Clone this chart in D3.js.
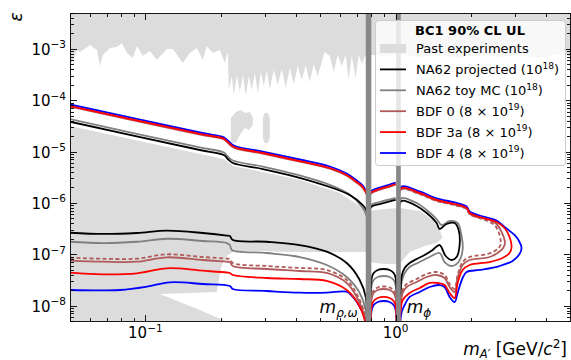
<!DOCTYPE html>
<html><head><meta charset="utf-8">
<script src="https://cdn.jsdelivr.net/npm/d3@7"></script>
<style>
body{margin:0;background:#fff;}
svg{display:block;font-family:"DejaVu Sans",sans-serif;}
</style></head><body>
<svg id="c" width="571" height="360"></svg>
<script>
// ---------------- DATA (mass in GeV/c^2, epsilon) ----------------
const xDomain = [0.05, 5];
const yDomain = [5e-9, 5e-3];
const xMajorTicks = [0.1, 1];
const xMajorLabels = ["−1", "0"];
const yMajorTicks = [1e-8, 1e-7, 1e-6, 1e-5, 1e-4, 1e-3];
const yMajorLabels = ["−8", "−7", "−6", "−5", "−4", "−3"];

// Past experiments: upper excluded region (lower boundary of the region hanging from the top)
const pastTop = [[0.0500,4.85e-4],[0.0514,6.07e-4],[0.0533,9.51e-4],[0.0548,8.69e-4],[0.0601,1.19e-3],[0.0641,9.51e-4],[0.0659,4.64e-4],[0.0677,7.60e-4],[0.0722,1.04e-3],[0.0770,1.088e-3],[0.0806,1.30e-3],[0.0844,8.31e-4],[0.0892,6.64e-4],[0.0926,1.14e-3],[0.0978,7.27e-4],[0.1043,9.09e-4],[0.1112,6.07e-4],[0.1220,9.95e-4],[0.1289,9.95e-4],[0.1413,5.31e-4],[0.1506,8.31e-4],[0.1606,1.04e-3],[0.1698,6.07e-4],[0.1761,1.14e-3],[0.1861,8.31e-4],[0.1985,9.51e-4],[0.2078,5.31e-4],[0.2117,7.60e-4],
 [0.2136,8.69e-4],[0.2156,1.58e-4],[0.2216,2.96e-4],[0.2258,1.26e-4],[0.2321,3.10e-4],[0.2386,1.445e-4],[0.2453,3.10e-4],[0.2521,1.208e-4],[0.2592,2.96e-4],[0.2664,1.58e-4],[0.2739,3.39e-4],[0.2815,1.38e-4],[0.2894,3.545e-4],[0.2975,1.89e-4],[0.3057,3.71e-4],[0.3144,1.654e-4],[0.3261,3.88e-4],[0.3383,1.98e-4],[0.3510,4.06e-4],[0.3641,1.73e-4],[0.3778,4.24e-4],[0.3919,2.07e-4],[0.4065,4.64e-4],[0.4218,2.48e-4],[0.4375,4.85e-4],[0.4539,2.26e-4],[0.4709,5.07e-4],[0.4885,2.96e-4],[0.5068,5.55e-4],[0.5209,8.69e-4],[0.5456,7.27e-4],[0.5660,3.545e-4],[0.5871,7.60e-4],[0.6091,4.64e-4],[0.6320,7.60e-4],[0.6496,2.48e-4],[0.6678,7.27e-4],[0.6928,2.71e-4],[0.7122,7.60e-4],[0.7322,5.07e-4],[0.7596,7.60e-4],
 [0.8027,7.60e-4],[0.9047,7.27e-4],[1.0383,7.95e-4],[1.2479,6.95e-4],[1.4997,7.60e-4],[1.8025,6.64e-4],[2.1660,7.95e-4],[2.6034,6.95e-4],[3.1289,7.60e-4],[3.7602,6.64e-4],[4.5193,7.95e-4],[5.0,7.27e-4]];
// Past experiments: beam-dump region (closed polygon)
const pastLower = [[0.05,3.14e-5],[0.1652,8.95e-6],[0.2059,7.16e-6],[0.2136,6.25e-6],[0.2237,5.23e-6],[0.2947,4.0e-6],[0.4141,2.79e-6],[0.5980,1.56e-6],[0.7390,7.95e-7],[0.7666,6.64e-7],[0.7666,1.104e-7],[0.6262,1.104e-7],[0.4977,1.104e-7],[0.3778,1.104e-7],[0.2868,1.155e-7],[0.2278,1.155e-7],[0.2136,9.65e-8],[0.2021,6.17e-8],[0.1966,3.15e-8],[0.1930,1.84e-8],[0.1143,1.68e-8],[0.1652,8.19e-9],[0.2078,5e-9],[0.05,5e-9]];
const pastResonance = [[0.7737,6.95e-7],[0.9047,7.60e-7],[1.0383,7.95e-7],[1.2479,6.95e-7],[1.4063,4.64e-7],[1.4997,2.96e-7],[1.5417,2.07e-7],[1.4589,1.65e-7],[1.3066,1.45e-7],[1.1382,1.104e-7],[1.0383,6.45e-8],[0.9047,6.45e-8],[0.7737,7.05e-8]];
const pastIsland1 = [[0.2196,1.47e-5],[0.2196,4.50e-5],[0.2300,5.89e-5],[0.2408,6.45e-5],[0.2498,5.63e-5],[0.2616,5.89e-5],[0.2689,4.71e-5],[0.2689,3.29e-5],[0.2592,2.63e-5],[0.2498,2.87e-5],[0.2386,2.10e-5],[0.2300,1.47e-5]];
const pastIsland2 = [[0.2947,4.50e-5],[0.3002,5.63e-5],[0.3087,5.63e-5],[0.3144,4.50e-5],[0.3144,1.84e-5],[0.3087,1.47e-5],[0.3002,1.47e-5],[0.2947,1.84e-5]];

// NA62 projected (10^18)
const na62Upper = [[0.05,3.81e-5],[0.1652,1.072e-5],[0.2059,8.56e-6],[0.2136,7.16e-6],[0.2237,5.98e-6],[0.2947,4.57e-6],[0.4029,3.19e-6],[0.5456,2.04e-6],[0.6556,1.42e-6],[0.7390,9.09e-7],[0.7666,6.95e-7],[0.7737,4.64e-7]];
const na62Mid = [[0.7809,6.64e-7],[0.8027,8.5e-7],[0.8639,9.5e-7],[0.9471,1.07e-6],[1.0008,1.14e-6]];
const na62Right = [[1.0288,7.27e-7],[1.0576,1.09e-6],[1.2139,8.69e-7],[1.3308,6.35e-7],[1.4589,4.06e-7],[1.4997,3.10e-7],[1.5994,3.88e-7],[1.7215,4.06e-7],[1.7860,2.96e-7],[1.8025,1.51e-7],[1.7534,8.82e-8],[1.6746,7.71e-8],[1.5848,9.23e-8],[1.4997,1.51e-7],[1.4063,1.21e-7],[1.3066,9.65e-8],[1.2139,8.07e-8],[1.1382,6.74e-8],[1.0871,5.39e-8],[1.0576,3.76e-8],[1.0479,2.01e-8],[1.0383,3e-9]];
const na62Lower = [[0.05,2.62e-7],[0.0677,2.48e-7],[0.0926,2.59e-7],[0.1220,2.87e-7],[0.1698,2.59e-7],[0.2117,2.31e-7],[0.2176,2.26e-7],[0.2237,1.89e-7],[0.3057,1.75e-7],[0.4141,1.51e-7],[0.5308,1.12e-7],[0.6378,6.74e-8],[0.7189,3.15e-8],[0.7596,1.47e-8],[0.7666,3e-9]];
const na62Arch = [[0.7953,3e-9],[0.8027,3.44e-8],[0.8176,4.31e-8],[0.8482,4.93e-8],[0.8965,5.15e-8],[0.9471,4.93e-8],[0.9826,4.31e-8],[1.0008,3.44e-8],[1.0101,3e-9]];

// NA62 toy MC (10^18)
const toyUpper = [[0.05,4.27e-5],[0.1652,1.20e-5],[0.2059,9.6e-6],[0.2136,8.0e-6],[0.2237,6.7e-6],[0.2947,5.1e-6],[0.4029,3.55e-6],[0.5456,2.25e-6],[0.6556,1.45e-6],[0.7390,8.0e-7],[0.7666,5.5e-7],[0.7737,4.0e-7]];
const toyMid = [[0.7809,7.3e-7],[0.8027,9.3e-7],[0.8639,1.04e-6],[0.9471,1.17e-6],[1.0008,1.25e-6]];
const toyRight = [[1.0288,9.09e-7],[1.0576,1.24e-6],[1.2139,9.94e-7],[1.3308,7.27e-7],[1.4589,4.85e-7],[1.5275,3.71e-7],[1.6441,4.44e-7],[1.7696,4.06e-7],[1.8359,2.26e-7],[1.8529,1.21e-7],[1.7860,7.05e-8],[1.6746,5.89e-8],[1.5702,7.05e-8],[1.4997,1.056e-7],[1.3681,8.82e-8],[1.2479,7.05e-8],[1.1382,5.64e-8],[1.0871,4.31e-8],[1.0576,2.88e-8],[1.0479,1.61e-8],[1.0383,3e-9]];
const toyLower = [[0.05,1.75e-7],[0.0677,1.65e-7],[0.0926,1.75e-7],[0.1220,2.00e-7],[0.1698,1.81e-7],[0.2117,1.65e-7],[0.2176,1.51e-7],[0.2216,1.21e-7],[0.3057,1.056e-7],[0.4141,8.82e-8],[0.5308,6.17e-8],[0.6378,3.60e-8],[0.7189,1.76e-8],[0.7596,8.19e-9],[0.7666,3e-9]];
const toyArch = [[0.7953,3e-9],[0.8027,2.51e-8],[0.8176,3.15e-8],[0.8482,3.60e-8],[0.8965,3.76e-8],[0.9471,3.60e-8],[0.9826,3.15e-8],[1.0008,2.51e-8],[1.0101,3e-9]];

// BDF 0 (8x10^19)
const bdf0Upper = [[0.05,7.48e-5],[0.1652,2.13e-5],[0.2059,1.73e-5],[0.2136,1.48e-5],[0.2258,1.19e-5],[0.2947,9.09e-6],[0.4141,6.34e-6],[0.5456,4.64e-6],[0.6378,3.39e-6],[0.6993,2.47e-6],[0.7390,1.98e-6],[0.7737,1.32e-6]];
const bdf0Mid = [[0.7809,1.16e-6],[0.7953,1.51e-6],[0.8639,1.80e-6],[0.9471,2.07e-6],[1.0008,2.26e-6]];
const bdf0Right = [[1.0288,1.38e-6],[1.0576,1.89e-6],[1.2479,1.51e-6],[1.4589,1.11e-6],[1.7215,9.2e-7],[1.9223,7.7e-7],[1.9761,6.15e-7],[2.1660,5.15e-7],[2.3747,4.64e-7],[2.5325,3.88e-7],[2.6517,2.71e-7],[2.7261,1.89e-7],[2.7261,1.51e-7],[2.6517,1.21e-7],[2.3747,8.82e-8],[1.9761,7.71e-8],[1.8529,6.17e-8],[1.7696,3.44e-8],[1.7215,1.84e-8],[1.6441,2.30e-8],[1.5702,3.44e-8],[1.4589,3.94e-8],[1.3308,3.60e-8],[1.2139,2.88e-8],[1.1073,2.30e-8],[1.0673,1.76e-8],[1.0479,1.025e-8],[1.0383,3e-9]];
const bdf0Lower = [[0.05,7.47e-8],[0.0677,7.14e-8],[0.0926,7.14e-8],[0.1220,8.71e-8],[0.1698,7.71e-8],[0.2117,7.14e-8],[0.2176,7.05e-8],[0.2237,5.89e-8],[0.3057,5.15e-8],[0.4141,4.71e-8],[0.5308,4.31e-8],[0.6378,2.75e-8],[0.6993,1.47e-8],[0.7527,5.98e-9],[0.7596,3e-9]];
const bdf0Arch = [[0.7953,3e-9],[0.8027,1.40e-8],[0.8176,1.76e-8],[0.8482,2.01e-8],[0.8965,2.10e-8],[0.9471,2.01e-8],[0.9826,1.76e-8],[1.0008,1.40e-8],[1.0101,3e-9]];
// BDF 0 variant (dashed)
const bdf0bRight = [[1.0288,1.35e-6],[1.0576,1.85e-6],[1.2479,1.48e-6],[1.4589,1.09e-6],[1.7215,9.0e-7],[1.9223,7.55e-7],[1.9761,6.03e-7],[2.1660,5.05e-7],[2.3314,4.44e-7],[2.4863,3.71e-7],[2.5795,2.71e-7],[2.6275,1.89e-7],[2.6275,1.51e-7],[2.5559,1.26e-7],[2.3314,1.01e-7],[1.9761,8.82e-8],[1.8529,7.05e-8],[1.7696,3.94e-8],[1.7215,2.10e-8],[1.6441,2.63e-8],[1.5702,3.94e-8],[1.4589,4.50e-8],[1.3308,4.12e-8],[1.2139,3.29e-8],[1.1073,2.63e-8],[1.0673,2.01e-8],[1.0479,1.12e-8],[1.0383,3e-9]];
const bdf0bLower = [[0.05,8.55e-8],[0.0677,8.17e-8],[0.0926,8.17e-8],[0.1220,9.96e-8],[0.1698,8.82e-8],[0.2117,8.17e-8],[0.2176,8.07e-8],[0.2237,6.74e-8],[0.3057,5.89e-8],[0.4141,5.39e-8],[0.5308,4.93e-8],[0.6378,3.15e-8],[0.6993,1.68e-8],[0.7527,6.8e-9],[0.7596,3e-9]];
const bdf0bArch = [[0.7953,3e-9],[0.8027,1.57e-8],[0.8176,1.97e-8],[0.8482,2.25e-8],[0.8965,2.35e-8],[0.9471,2.25e-8],[0.9826,1.97e-8],[1.0008,1.57e-8],[1.0101,3e-9]];

// BDF 3a (8x10^19)
const bdf3aUpper = [[0.05,7.71e-5],[0.1652,2.20e-5],[0.2059,1.78e-5],[0.2136,1.53e-5],[0.2258,1.226e-5],[0.2947,9.37e-6],[0.4141,6.54e-6],[0.5456,4.78e-6],[0.6378,3.49e-6],[0.6993,2.55e-6],[0.7390,2.04e-6],[0.7737,1.36e-6]];
const bdf3aMid = [[0.7809,1.2e-6],[0.7953,1.56e-6],[0.8639,1.86e-6],[0.9471,2.13e-6],[1.0008,2.33e-6]];
const bdf3aRight = [[1.0288,1.42e-6],[1.0576,1.95e-6],[1.2479,1.56e-6],[1.4589,1.14e-6],[1.7215,9.51e-7],[1.9223,7.95e-7],[1.9761,6.35e-7],[2.1660,5.31e-7],[2.5325,4.24e-7],[2.7261,3.24e-7],[2.8543,2.16e-7],[2.9071,1.38e-7],[2.8543,1.056e-7],[2.6762,8.44e-8],[2.3747,7.05e-8],[1.9761,6.17e-8],[1.8529,4.93e-8],[1.7696,2.75e-8],[1.7215,1.40e-8],[1.6441,1.76e-8],[1.5702,2.51e-8],[1.4724,2.75e-8],[1.3681,2.75e-8],[1.2479,2.20e-8],[1.1382,1.76e-8],[1.0673,1.28e-8],[1.0479,8.19e-9],[1.0383,3e-9]];
const bdf3aLower = [[0.05,4.36e-8],[0.0677,4.06e-8],[0.0926,4.25e-8],[0.1220,5.32e-8],[0.1698,4.77e-8],[0.2117,4.40e-8],[0.2176,4.3e-8],[0.2237,3.94e-8],[0.3057,3.44e-8],[0.4141,3.29e-8],[0.5308,3.01e-8],[0.6378,2.01e-8],[0.7058,1.12e-8],[0.7527,5.23e-9],[0.7596,3e-9]];
const bdf3aArch = [[0.7953,3e-9],[0.8027,9.8e-9],[0.8176,1.226e-8],[0.8482,1.40e-8],[0.8965,1.47e-8],[0.9471,1.40e-8],[0.9826,1.226e-8],[1.0008,9.8e-9],[1.0101,3e-9]];

// BDF 4 (8x10^19)
const bdf4Upper = [[0.05,8.25e-5],[0.1652,2.35e-5],[0.2059,1.90e-5],[0.2136,1.64e-5],[0.2258,1.31e-5],[0.2947,1.0e-5],[0.4141,7.0e-6],[0.5456,5.11e-6],[0.6378,3.73e-6],[0.6993,2.73e-6],[0.7390,2.18e-6],[0.7737,1.46e-6]];
const bdf4Mid = [[0.7809,1.28e-6],[0.7953,1.67e-6],[0.8639,1.99e-6],[0.9471,2.28e-6],[1.0008,2.49e-6]];
const bdf4Right = [[1.0288,1.52e-6],[1.0576,2.09e-6],[1.2479,1.67e-6],[1.4589,1.22e-6],[1.7215,1.02e-6],[1.9223,8.5e-7],[1.9761,6.8e-7],[2.1660,5.68e-7],[2.5325,4.54e-7],[2.7261,3.39e-7],[2.9884,2.37e-7],[3.1289,1.73e-7],[3.1870,1.32e-7],[3.1289,1.01e-7],[2.9340,7.38e-8],[2.6034,5.89e-8],[2.1660,4.93e-8],[1.9223,4.50e-8],[1.8529,3.44e-8],[1.7696,1.76e-8],[1.7215,1.17e-8],[1.6441,1.47e-8],[1.5702,2.30e-8],[1.4997,2.51e-8],[1.3681,2.30e-8],[1.2479,1.84e-8],[1.1382,1.47e-8],[1.0871,1.025e-8],[1.0576,7.49e-9],[1.0383,3e-9]];
const bdf4Lower = [[0.05,2.01e-8],[0.0792,2.01e-8],[0.1015,2.33e-8],[0.1253,2.84e-8],[0.1698,2.63e-8],[0.2176,2.40e-8],[0.2237,2.10e-8],[0.3057,1.92e-8],[0.4141,1.78e-8],[0.5308,1.78e-8],[0.6378,1.86e-8],[0.6740,1.49e-8],[0.7189,9.5e-9],[0.7596,5.23e-9],[0.7666,3e-9]];
const bdf4Arch = [[0.7953,3e-9],[0.8027,8.19e-9],[0.8176,1.025e-8],[0.8482,1.17e-8],[0.8965,1.226e-8],[0.9471,1.17e-8],[0.9826,1.025e-8],[1.0008,8.19e-9],[1.0101,3e-9]];

// Resonance vetoes (mass ranges)
const resonanceBands = [[0.760, 0.800], [1.005, 1.049]];

// Legend
const legendTitle = "BC1 90% CL UL";
const legendEntries = [
  {kind:"patch", color:"#dcdcdc", parts:[["Past experiments"]]},
  {kind:"line", color:"#000000", parts:[["NA62 projected (10"],["18","sup"],[")"]]},
  {kind:"line", color:"#808080", parts:[["NA62 toy MC (10"],["18","sup"],[")"]]},
  {kind:"line", color:"#b05a5a", parts:[["BDF 0 (8 × 10"],["19","sup"],[")"]]},
  {kind:"line", color:"#ff0000", parts:[["BDF 3a (8 × 10"],["19","sup"],[")"]]},
  {kind:"line", color:"#0000ff", parts:[["BDF 4 (8 × 10"],["19","sup"],[")"]]}
];

// ---------------- DRAWING ----------------
const L = 70, R = 570.5, T = 13, B = 321;
const x = d3.scaleLog().domain(xDomain).range([L, R]);
const y = d3.scaleLog().domain(yDomain).range([B, T]);
const svg = d3.select("#c");
svg.append("rect").attr("width",571).attr("height",360).attr("fill","#fff");
svg.append("defs").append("clipPath").attr("id","clip")
  .append("rect").attr("x",L).attr("y",T).attr("width",R-L).attr("height",B-T);
const g = svg.append("g").attr("clip-path","url(#clip)");
const GRAY = "#dcdcdc";

g.append("path").datum(pastTop)
  .attr("d", d3.area().x(d=>x(d[0])).y0(y(yDomain[1])).y1(d=>y(d[1])))
  .attr("fill", GRAY);
const poly = d3.line().x(d=>x(d[0])).y(d=>y(d[1])).curve(d3.curveLinearClosed);
[pastLower, pastResonance, pastIsland1, pastIsland2].forEach(p=>{
  g.append("path").attr("d", poly(p)).attr("fill", GRAY);
});

const line = d3.line().x(d=>x(d[0])).y(d=>y(d[1])).curve(d3.curveCatmullRom.alpha(0.5));
const series = [
  {color:"#808080", dash:null, segs:[toyUpper,toyMid,toyRight,toyLower,toyArch]},
  {color:"#000000", dash:null, segs:[na62Upper,na62Mid,na62Right,na62Lower,na62Arch]},
  {color:"#0000ff", dash:null, segs:[bdf4Upper,bdf4Mid,bdf4Right,bdf4Lower,bdf4Arch]},
  {color:"#b05a5a", dash:"4,2.5", segs:[bdf0bRight,bdf0bLower,bdf0bArch]},
  {color:"#b05a5a", dash:null, segs:[bdf0Upper,bdf0Mid,bdf0Right,bdf0Lower,bdf0Arch]},
  {color:"#ff0000", dash:null, segs:[bdf3aUpper,bdf3aMid,bdf3aRight,bdf3aLower,bdf3aArch]}
];
series.forEach(s=>{
  s.segs.forEach(seg=>{
    g.append("path").attr("d", line(seg)).attr("fill","none")
      .attr("stroke", s.color).attr("stroke-width", 1.8)
      .attr("stroke-linejoin","round")
      .attr("stroke-dasharray", s.dash);
  });
});

resonanceBands.forEach(b=>{
  g.append("rect").attr("x", x(b[0])).attr("width", x(b[1])-x(b[0]))
    .attr("y", T).attr("height", B-T).attr("fill", "#888888");
});

// annotations
const ann1 = svg.append("text").attr("x", x(0.497)).attr("y", y(7.2e-9)).attr("font-size",17).attr("fill","#000");
ann1.append("tspan").text("m").attr("font-style","italic");
ann1.append("tspan").text("ρ,ω").attr("font-style","italic").attr("font-size",12).attr("dy",4);
const ann2 = svg.append("text").attr("x", x(1.107)).attr("y", y(7.2e-9)).attr("font-size",17).attr("fill","#000");
ann2.append("tspan").text("m").attr("font-style","italic");
ann2.append("tspan").text("ϕ").attr("font-style","italic").attr("font-size",12).attr("dy",4);

// ticks
const ax = svg.append("g").attr("stroke","#000").attr("stroke-width",0.9).attr("shape-rendering","crispEdges");
function minorTicks(domain){
  const out=[]; const e0=Math.floor(Math.log10(domain[0])), e1=Math.ceil(Math.log10(domain[1]));
  for(let e=e0;e<=e1;e++) for(let k=2;k<=9;k++){const v=k*Math.pow(10,e); if(v>=domain[0]*0.999 && v<=domain[1]*1.001) out.push(v);}
  return out;
}
const xMinor = minorTicks(xDomain), yMinor = minorTicks(yDomain);
xMajorTicks.forEach(v=>{const px=Math.round(x(v))+0.5; ax.append("line").attr("x1",px).attr("x2",px).attr("y1",B).attr("y2",B-6.5); ax.append("line").attr("x1",px).attr("x2",px).attr("y1",T).attr("y2",T+6.5);});
xMinor.forEach(v=>{const px=Math.round(x(v))+0.5; ax.append("line").attr("x1",px).attr("x2",px).attr("y1",B).attr("y2",B-3.5); ax.append("line").attr("x1",px).attr("x2",px).attr("y1",T).attr("y2",T+3.5);});
yMajorTicks.forEach(v=>{const py=Math.round(y(v))+0.5; ax.append("line").attr("x1",L).attr("x2",L+7).attr("y1",py).attr("y2",py); ax.append("line").attr("x1",R).attr("x2",R-7).attr("y1",py).attr("y2",py);});
yMinor.forEach(v=>{const py=Math.round(y(v))+0.5; ax.append("line").attr("x1",L).attr("x2",L+4).attr("y1",py).attr("y2",py); ax.append("line").attr("x1",R).attr("x2",R-4).attr("y1",py).attr("y2",py);});
ax.append("rect").attr("x",L+0.5).attr("y",T+0.5).attr("width",R-L-0.5).attr("height",B-T).attr("fill","none");

// tick labels
yMajorTicks.forEach((v,i)=>{
  const t = svg.append("text").attr("x",66).attr("y",y(v)+6).attr("text-anchor","end").attr("font-size",15).attr("fill","#000");
  t.append("tspan").text("10");
  t.append("tspan").text(yMajorLabels[i]).attr("font-size",10.5).attr("dy",-6.5);
});
xMajorTicks.forEach((v,i)=>{
  const t = svg.append("text").attr("x",x(v)).attr("y",338).attr("text-anchor","middle").attr("font-size",15).attr("fill","#000");
  t.append("tspan").text("10");
  t.append("tspan").text(xMajorLabels[i]).attr("font-size",10.5).attr("dy",-6.5);
});

// axis labels
const xl = svg.append("text").attr("x",567).attr("y",355).attr("text-anchor","end").attr("font-size",17).attr("fill","#000");
xl.append("tspan").text("m").attr("font-style","italic");
xl.append("tspan").text("A′").attr("font-style","italic").attr("font-size",11.5).attr("dy",3);
xl.append("tspan").text(" [GeV/").attr("dy",-3);
xl.append("tspan").text("c").attr("font-style","italic");
xl.append("tspan").text("2").attr("font-size",12).attr("dy",-7);
xl.append("tspan").text("]").attr("dy",7);
svg.append("text").attr("transform","translate(22,17) rotate(-90)").attr("text-anchor","middle")
  .attr("font-size",17).attr("font-style","italic").attr("fill","#000").text("ε");

// legend
const lg = svg.append("g").attr("transform","translate(375,20)");
lg.append("rect").attr("x",0.5).attr("y",0.5).attr("width",190).attr("height",145).attr("rx",3)
  .attr("fill","#fff").attr("fill-opacity",0.8).attr("stroke","#cccccc").attr("stroke-width",1);
lg.append("text").attr("x",95).attr("y",14.5).attr("text-anchor","middle").attr("font-size",13).attr("font-weight","bold").attr("fill","#000").text(legendTitle);
legendEntries.forEach((e,i)=>{
  const cy = 28.5 + i*20.9;
  if (e.kind==="patch") lg.append("rect").attr("x",5).attr("y",cy-4.5).attr("width",26).attr("height",9).attr("fill",e.color);
  else lg.append("line").attr("x1",5).attr("x2",31).attr("y1",cy).attr("y2",cy).attr("stroke",e.color).attr("stroke-width",1.8);
  const t = lg.append("text").attr("x",41).attr("y",cy+4.7).attr("font-size",13).attr("fill","#000");
  e.parts.forEach((p,j)=>{
    const ts = t.append("tspan").text(p[0]);
    if (p[1]==="sup") ts.attr("font-size",9.1).attr("dy",-5.5);
    else if (j===2) ts.attr("dy",5.5);
  });
});
</script>
</body></html>
